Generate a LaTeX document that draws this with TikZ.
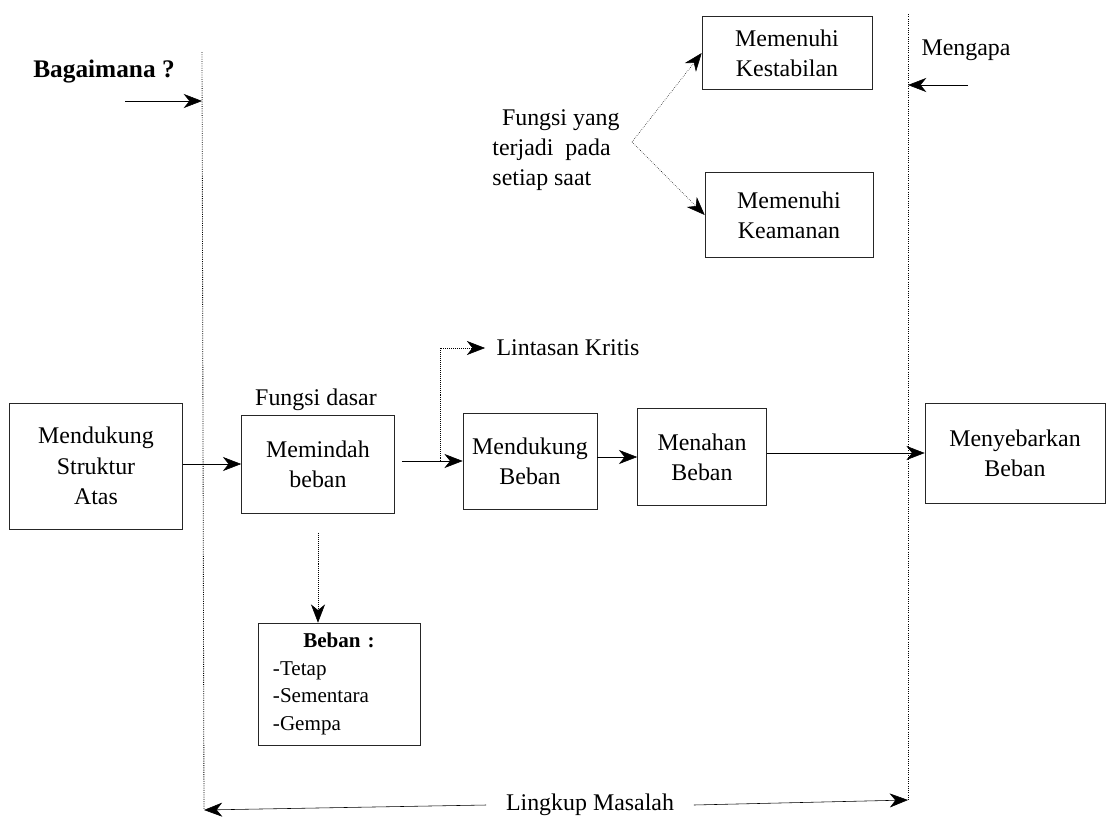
\documentclass[tikz,border=0pt]{standalone}
\usepackage{fontspec}
\setmainfont{Liberation Serif}
\usetikzlibrary{positioning,arrows.meta}
\tikzstyle{box} = [rectangle, draw=black!85, thin, align=center, inner sep=2pt, font=\fontsize{17}{21.5}\selectfont]
\tikzstyle{lbl} = [align=center, inner sep=2pt, font=\fontsize{17}{21.5}\selectfont]
\tikzstyle{arrow} = [thin, -{Stealth[length=13pt,width=10pt,inset=4pt]}]
\tikzstyle{bound} = [densely dotted, line width=0.6pt]

\begin{document}
\begin{tikzpicture}[x=0.025cm, y=-0.025cm]
            \useasboundingbox (0,0) rectangle (1113,823);

            % Nodes
            \node (atas) [box, minimum width=4.325cm, minimum height=3.15cm] at (96,466) {Mendukung\\Struktur\\Atas};
            \node (memindah) [box, minimum width=3.825cm, minimum height=2.45cm] at (318,464) {Memindah\\beban};
            \node (mendukung) [box, minimum width=3.35cm, minimum height=2.4cm] at (530,461) {Mendukung\\Beban};
            \node (menahan) [box, minimum width=3.225cm, minimum height=2.425cm] at (702,457) {Menahan\\Beban};
            \node (menyebar) [box, minimum width=4.5cm, minimum height=2.5cm] at (1015,453) {Menyebarkan\\Beban};

            \node (stabil) [box, minimum width=4.25cm, minimum height=1.825cm] at (787,53) {Memenuhi\\Kestabilan};
            \node (aman) [box, minimum width=4.2cm, minimum height=2.125cm] at (789,215) {Memenuhi\\Keamanan};

            \node (beban) [box, align=left, text width=3.3cm, minimum width=4.05cm, minimum height=3.05cm,
                font=\fontsize{15}{19.5}\selectfont] at (339,684)
                {\makebox[\linewidth]{\bfseries Beban :}\\-Tetap\\-Sementara\\-Gempa};

            \node (bagaimana) [lbl, font=\fontsize{18}{22}\selectfont\bfseries] at (104,72) {Bagaimana ?};
            \node (mengapa) [lbl] at (966,50) {Mengapa};
            \node (fungsi) [lbl, align=left] at (556,150) {\hspace*{0.4em}Fungsi yang\\terjadi\ \ pada\\setiap saat};
            \node (dasar) [lbl] at (316,400) {Fungsi dasar};
            \node (kritis) [lbl] at (568,348) {Lintasan Kritis};
            \node (lingkup) [lbl, inner xsep=14pt] at (590,805) {Lingkup Masalah};

            % Batas lingkup
            \coordinate (ltop) at (202,52);
            \coordinate (lbot) at (204,810);
            \coordinate (rtop) at (908,14);
            \coordinate (rbot) at (908,800);
            \draw [bound] (ltop) -- (lbot);
            \draw [bound] (rtop) -- (rbot);

            \coordinate (bagIn) at (125,101);
            \coordinate (mengIn) at (968,85);
            \coordinate (fork) at (632,142);
            \coordinate (split) at (440,461);

            % Arrows
            \draw [arrow] (bagIn) -- (bagIn -| ltop);
            \draw [arrow] (mengIn) -- (mengIn -| rtop);
            \draw [arrow] (lingkup.west) -- (lbot);
            \draw [arrow] (lingkup.east) -- (rbot);

            \draw [arrow, densely dotted] (fork) -- (stabil.west);
            \draw [arrow, densely dotted] (fork) -- (aman.west);

            \draw [arrow] (atas.east |- memindah) -- (memindah.west);
            \draw [arrow, shorten <=5pt] (memindah.east |- mendukung) -- (mendukung.west);
            \draw [arrow, densely dotted] (split) |- ([xshift=-6pt]kritis.west);
            \draw [arrow] (mendukung.east |- menahan) -- (menahan.west);
            \draw [arrow] (menahan.east |- menyebar) -- (menyebar.west);
            \draw [arrow, densely dotted, shorten <=14pt] (memindah.south) -- (memindah.south |- beban.north);
        \end{tikzpicture}
\end{document}
